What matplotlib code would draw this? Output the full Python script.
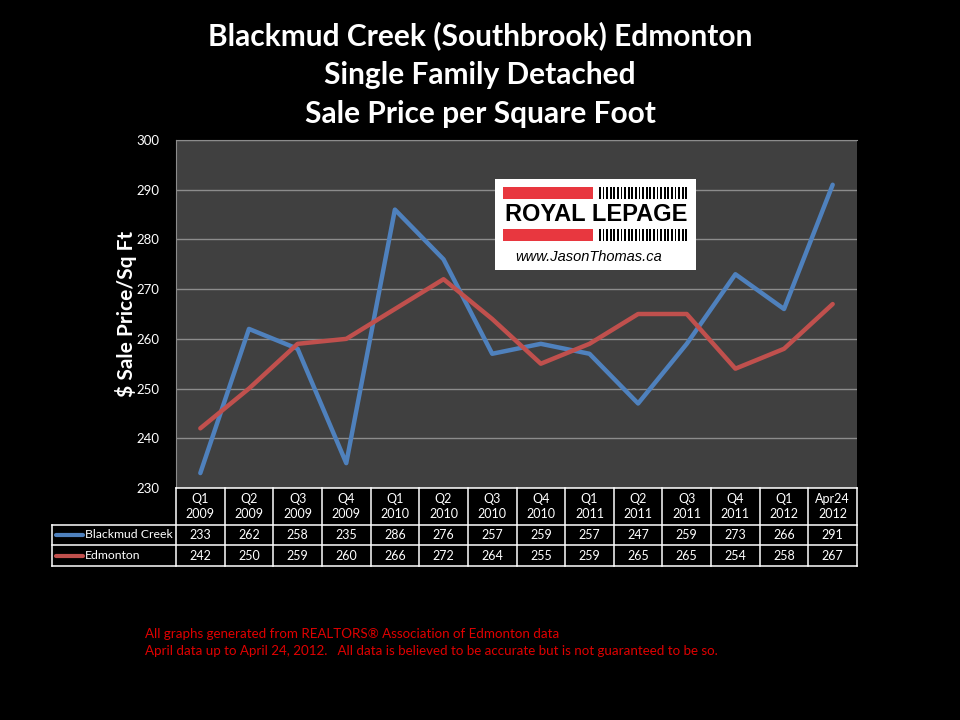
import numpy as np
import matplotlib.pyplot as plt
import matplotlib.transforms as mtransforms
from matplotlib.patches import Rectangle

periods = ["Q1\n2009", "Q2\n2009", "Q3\n2009", "Q4\n2009", "Q1\n2010", "Q2\n2010", "Q3\n2010",
           "Q4\n2010", "Q1\n2011", "Q2\n2011", "Q3\n2011", "Q4\n2011", "Q1\n2012", "Apr24\n2012"]
blackmud = [233, 262, 258, 235, 286, 276, 257, 259, 257, 247, 259, 273, 266, 291]
edmonton = [242, 250, 259, 260, 266, 272, 264, 255, 259, 265, 265, 254, 258, 267]
series_names = ["Blackmud Creek", "Edmonton"]
series_colors = ["#4F81BD", "#C0504D"]
yticks = [230, 240, 250, 260, 270, 280, 290, 300]

plt.rcParams["font.family"] = ["Lato", "DejaVu Sans"]

fig = plt.figure(figsize=(9.6, 7.2), dpi=100, facecolor="black")
ax = fig.add_axes([176 / 960, 1 - 488 / 720, 681 / 960, 348 / 720])
ax.set_facecolor("#404040")

x = np.arange(len(periods))
for vals, col in zip([blackmud, edmonton], series_colors):
    ax.plot(x, vals, color=col, lw=3.2, solid_capstyle="round", zorder=3)

ax.set_xlim(-0.5, len(periods) - 0.5)
ax.set_ylim(230, 300)
ax.set_yticks(yticks)
ax.set_xticks([])
ax.tick_params(axis="y", length=0, colors="white", labelsize=9.5, pad=12)
ax.grid(axis="y", color="#8c8c8c", lw=1)
for s in ["right", "bottom"]:
    ax.spines[s].set_visible(False)
for s in ["left", "top"]:
    ax.spines[s].set_color("#8c8c8c")

ax.set_ylabel("$ Sale Price/Sq Ft", color="white", fontsize=15, fontweight="bold", va="center")
ax.yaxis.set_label_coords(-50 / 681, 0.5)

# titles
titles = ["Blackmud Creek (Southbrook) Edmonton", "Single Family Detached", "Sale Price per Square Foot"]
for i, t in enumerate(titles):
    fig.text(0.5, 1 - (36 + 39 * i) / 720, t, color="white", fontsize=21.5, fontweight="bold",
             ha="center", va="center")

# data table under the axis
trans = mtransforms.blended_transform_factory(ax.transData, ax.transAxes)
h_head = -37 / 348
h_row1 = -57 / 348
h_row2 = -78 / 348
lab_left = -124 / 681
kw = dict(color="white", lw=1.1, clip_on=False, zorder=5)
ax.plot([-0.5, len(periods) - 0.5], [0, 0], transform=trans, **kw)
for i in range(len(periods) + 1):
    ax.plot([i - 0.5, i - 0.5], [0, h_row2], transform=trans, **kw)
for yy in [h_head, h_row1, h_row2]:
    ax.plot([lab_left, 1], [yy, yy], transform=ax.transAxes, **kw)
ax.plot([lab_left, lab_left], [h_head, h_row2], transform=ax.transAxes, **kw)

for i, p in enumerate(periods):
    ax.text(i, h_head / 2, p, transform=trans, ha="center", va="center", color="white",
            fontsize=9, linespacing=1.3)
rows = [(blackmud, (h_head + h_row1) / 2), (edmonton, (h_row1 + h_row2) / 2)]
for (vals, yc), name, col in zip(rows, series_names, series_colors):
    for i, v in enumerate(vals):
        ax.text(i, yc, str(v), transform=trans, ha="center", va="center", color="white", fontsize=9)
    ax.plot([-0.176, -0.137], [yc, yc], transform=ax.transAxes, color=col, lw=3,
            solid_capstyle="round", clip_on=False)
    ax.text(-0.134, yc, name, transform=ax.transAxes, ha="left", va="center", color="white",
            fontsize=8.8)

# logo
fig.patches.append(Rectangle((495 / 960, 1 - 270 / 720), 201 / 960, 91 / 720,
                             transform=fig.transFigure, facecolor="white", edgecolor="none"))
for y0 in [187, 229]:
    fig.patches.append(Rectangle((503 / 960, 1 - (y0 + 12) / 720), 90 / 960, 12 / 720,
                                 transform=fig.transFigure, facecolor="#E8373F", edgecolor="none"))
    for k in range(25):
        fig.patches.append(Rectangle(((599 + k * 3.6) / 960, 1 - (y0 + 12) / 720), 1.8 / 960, 12 / 720,
                                     transform=fig.transFigure, facecolor="black", edgecolor="none"))
fig.text(596 / 960, 1 - 214.5 / 720, "ROYAL LEPAGE", color="black", fontsize=17, fontweight="heavy",
         ha="center", va="center", family=["Liberation Sans", "DejaVu Sans"])
fig.text(589 / 960, 1 - 257 / 720, "www.JasonThomas.ca", color="black", fontsize=10.5, style="italic",
         ha="center", va="center", family=["Liberation Sans", "DejaVu Sans"])

# footer
fig.text(145 / 960, 1 - 634 / 720, "All graphs generated from REALTORS\u00ae Association of Edmonton data",
         color="#E00000", fontsize=9.6, va="center")
fig.text(145 / 960, 1 - 651 / 720,
         "April data up to April 24, 2012.   All data is believed to be accurate but is not guaranteed to be so.",
         color="#E00000", fontsize=9.6, va="center")

fig.savefig("out.png", dpi=100, facecolor="black")
